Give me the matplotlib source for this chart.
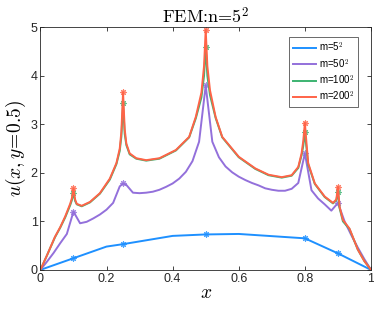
import matplotlib
matplotlib.use('Agg')
import matplotlib.pyplot as plt

plt.rcParams['font.family'] = ['Liberation Sans', 'DejaVu Sans']
plt.rcParams['mathtext.fontset'] = 'cm'
plt.rcParams['axes.unicode_minus'] = False

# points with markers (source locations)
mark_x = [0.1, 0.25, 0.5, 0.8, 0.9]

# m = 5^2
x5 = [0, 0.1, 0.2, 0.25, 0.4, 0.5, 0.6, 0.8, 0.9, 1.0]
u5 = [0, 0.24, 0.48, 0.53, 0.70, 0.73, 0.74, 0.65, 0.34, 0]

# m = 50^2
x50 = [0, 0.02, 0.04, 0.06, 0.08, 0.1, 0.12, 0.14, 0.16, 0.18, 0.2, 0.22, 0.24, 0.25,
       0.26, 0.28, 0.30, 0.32, 0.34, 0.36, 0.38, 0.40, 0.42, 0.44, 0.46, 0.48, 0.5,
       0.52, 0.54, 0.56, 0.58, 0.60, 0.62, 0.64, 0.66, 0.68, 0.70, 0.72, 0.74, 0.76,
       0.78, 0.8, 0.82, 0.84, 0.86, 0.88, 0.9, 0.92, 0.94, 0.96, 0.98, 1.0]
u50 = [0, 0.17, 0.35, 0.55, 0.74, 1.20, 0.96, 0.99, 1.06, 1.14, 1.24, 1.38, 1.72, 1.78,
       1.75, 1.59, 1.58, 1.59, 1.61, 1.65, 1.71, 1.78, 1.88, 2.02, 2.24, 2.64, 3.80,
       2.64, 2.32, 2.13, 2.01, 1.92, 1.85, 1.79, 1.74, 1.68, 1.65, 1.63, 1.63, 1.67,
       1.79, 2.40, 1.64, 1.47, 1.35, 1.22, 1.38, 1.00, 0.72, 0.46, 0.22, 0]

# m = 100^2 and m = 200^2 (almost on top of each other)
xf = [0, 0.02, 0.044, 0.06, 0.075, 0.09, 0.095, 0.1, 0.105, 0.11, 0.125, 0.15, 0.18,
      0.21, 0.23, 0.24, 0.245, 0.25, 0.255, 0.26, 0.27, 0.29, 0.32, 0.36, 0.41, 0.45,
      0.47, 0.487, 0.495, 0.5, 0.505, 0.513, 0.53, 0.55, 0.60, 0.65, 0.69, 0.73, 0.76,
      0.78, 0.79, 0.795, 0.8, 0.805, 0.81, 0.83, 0.86, 0.885, 0.895, 0.9, 0.905, 0.915,
      0.935, 0.96, 0.98, 1.0]
u100 = [0, 0.30, 0.67, 0.87, 1.08, 1.33, 1.43, 1.58, 1.42, 1.35, 1.31, 1.39, 1.57,
        1.86, 2.18, 2.45, 2.75, 3.43, 2.8, 2.57, 2.38, 2.29, 2.25, 2.29, 2.46, 2.73,
        3.12, 3.55, 4.0, 4.60, 4.0, 3.6, 3.13, 2.73, 2.32, 2.08, 1.95, 1.90, 1.94,
        2.10, 2.36, 2.55, 2.83, 2.5, 2.17, 1.77, 1.50, 1.37, 1.43, 1.61, 1.27, 1.0,
        0.84, 0.42, 0.18, 0]
u200 = [0, 0.30, 0.68, 0.88, 1.10, 1.36, 1.47, 1.68, 1.45, 1.36, 1.32, 1.40, 1.58,
        1.88, 2.2, 2.5, 2.85, 3.66, 2.9, 2.6, 2.40, 2.30, 2.26, 2.30, 2.47, 2.74,
        3.15, 3.65, 4.2, 4.95, 4.2, 3.7, 3.15, 2.74, 2.33, 2.09, 1.96, 1.91, 1.95,
        2.12, 2.40, 2.65, 3.03, 2.6, 2.2, 1.78, 1.51, 1.38, 1.45, 1.71, 1.3, 1.03,
        0.85, 0.42, 0.18, 0]

series = [
    (x5, u5, '#1e90ff', r'm=5$^{\mathsf{2}}$'),
    (x50, u50, '#9370db', r'm=50$^{\mathsf{2}}$'),
    (xf, u100, '#3cb371', r'm=100$^{\mathsf{2}}$'),
    (xf, u200, '#ff6347', r'm=200$^{\mathsf{2}}$'),
]

fig = plt.figure(figsize=(3.74, 3.12), dpi=100)
ax = fig.add_axes([0.108, 0.135, 0.884, 0.778])

for xs, us, c, lab in series:
    ax.plot(xs, us, color=c, lw=1.4, label=lab)
    mu = [us[xs.index(m)] for m in mark_x]
    ax.plot(mark_x, mu, color=c, ls='none', marker=(8, 2, 0), markersize=4.5,
            markeredgewidth=0.8, alpha=0.8)

ax.set_xlim(0, 1)
ax.set_ylim(0, 5)
ax.set_xticks([0, 0.2, 0.4, 0.6, 0.8, 1])
ax.set_xticklabels(['0', '0.2', '0.4', '0.6', '0.8', '1'])
ax.set_yticks([0, 1, 2, 3, 4, 5])
ax.tick_params(direction='in', top=True, right=True, labelsize=9, length=3,
               width=0.6, color='#262626', labelcolor='#262626', pad=2)
for s in ax.spines.values():
    s.set_color('#262626')
    s.set_linewidth(0.6)

ax.set_title(r'FEM:n=5$^2$', fontsize=13, pad=3, family=['cmr10', 'DejaVu Serif'])
ax.set_xlabel(r'$x$', fontsize=14, labelpad=0)
ax.set_ylabel(r'$u(x,y\!=\!0.5)$', fontsize=14, labelpad=2)

leg = ax.legend(loc='upper right', fontsize=7, handlelength=2.3, frameon=True,
                fancybox=False, edgecolor='#262626', borderpad=0.4, labelspacing=0.3,
                handletextpad=0.3, bbox_to_anchor=(0.975, 0.98))
leg.get_frame().set_linewidth(0.6)

plt.savefig('out.png', dpi=100)
